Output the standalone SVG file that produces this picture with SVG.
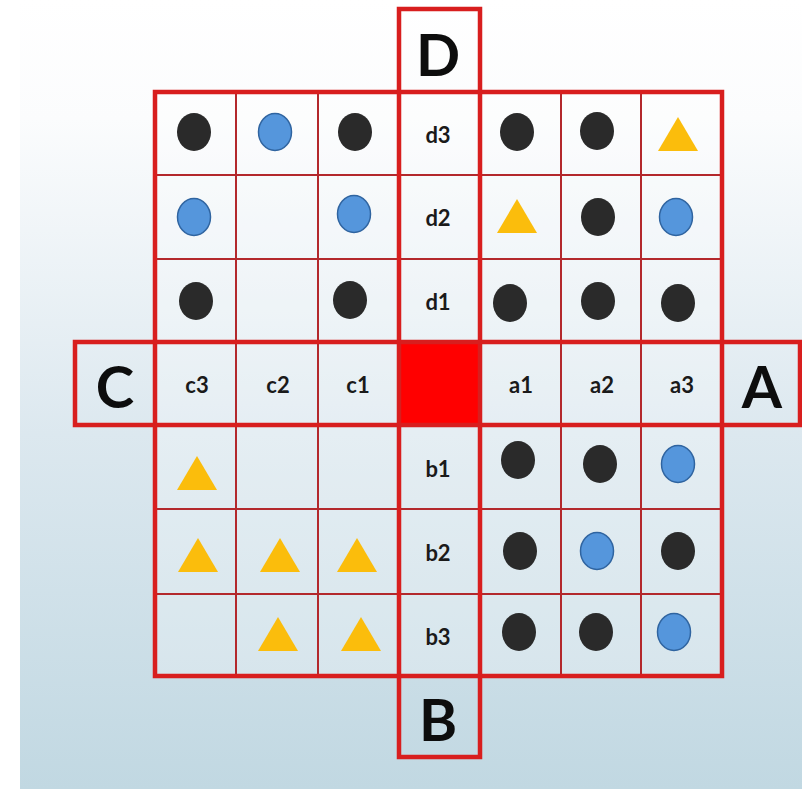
<svg xmlns="http://www.w3.org/2000/svg" width="802" height="789" viewBox="0 0 802 789">
<defs>
<linearGradient id="bg" x1="0" y1="0" x2="0" y2="1">
<stop offset="0" stop-color="#ffffff"/>
<stop offset="0.15" stop-color="#fbfcfd"/>
<stop offset="0.55" stop-color="#dce8ef"/>
<stop offset="1" stop-color="#c1d8e2"/>
</linearGradient>
<ellipse id="blk" rx="17" ry="19" fill="#2a2a2a"/>
<ellipse id="blu" rx="16.5" ry="18.5" fill="#5596dc" stroke="#2f64a0" stroke-width="1.5"/>
<polygon id="tri" points="0,-17 20,17 -20,17" fill="#fbbd0c"/>
</defs>
<style>
.thin{stroke:#b3282c;stroke-width:2;fill:none}
.thick{stroke:#d81e1e;stroke-width:4.5;fill:none}
.big{font-family:Lato,"Open Sans",sans-serif;font-weight:bold;font-size:58px;fill:#0d0d0d;text-anchor:middle}
.lbl{font-family:Lato,"Open Sans",sans-serif;font-weight:bold;font-size:22px;fill:#1a1a1a;text-anchor:middle}
</style>
<rect x="0" y="0" width="802" height="789" fill="#ffffff"/>
<rect x="20" y="0" width="782" height="789" fill="url(#bg)"/>

<g id="grid">
<rect x="155" y="92" width="567" height="584" fill="#ffffff" fill-opacity="0.25"/>
<rect x="399" y="342" width="81" height="83" fill="#ff0000"/>
<line class="thin" x1="236" y1="92" x2="236" y2="676"/>
<line class="thin" x1="318" y1="92" x2="318" y2="676"/>
<line class="thin" x1="561" y1="92" x2="561" y2="676"/>
<line class="thin" x1="641" y1="92" x2="641" y2="676"/>
<line class="thin" x1="155" y1="175" x2="722" y2="175"/>
<line class="thin" x1="155" y1="259" x2="722" y2="259"/>
<line class="thin" x1="155" y1="509" x2="722" y2="509"/>
<line class="thin" x1="155" y1="594" x2="722" y2="594"/>
<rect class="thick" x="155" y="92" width="567" height="584"/>
<rect class="thick" x="399" y="9" width="81" height="748"/>
<rect class="thick" x="75" y="342" width="725" height="83"/>
</g>

<g id="D"><text class="big" x="438" y="76">D</text></g>
<g id="B"><text class="big" x="438" y="741">B</text></g>
<g id="C"><text class="big" x="115" y="408">C</text></g>
<g id="A"><text class="big" x="762" y="408">A</text></g>

<g id="labels">
<text class="lbl" x="438" y="143">d3</text>
<text class="lbl" x="438" y="226">d2</text>
<text class="lbl" x="438" y="310">d1</text>
<text class="lbl" x="197" y="393">c3</text>
<text class="lbl" x="278" y="393">c2</text>
<text class="lbl" x="358" y="393">c1</text>
<text class="lbl" x="521" y="393">a1</text>
<text class="lbl" x="602" y="393">a2</text>
<text class="lbl" x="682" y="393">a3</text>
<text class="lbl" x="438" y="477">b1</text>
<text class="lbl" x="438" y="561">b2</text>
<text class="lbl" x="438" y="645">b3</text>
</g>

<g id="pieces">
<use href="#blk" x="194" y="132"/>
<use href="#blu" x="275" y="132"/>
<use href="#blk" x="355" y="132"/>
<use href="#blk" x="517" y="132"/>
<use href="#blk" x="597" y="131"/>
<use href="#tri" x="678" y="134"/>

<use href="#blu" x="194" y="217"/>
<use href="#blu" x="354" y="214"/>
<use href="#tri" x="517" y="216"/>
<use href="#blk" x="598" y="217"/>
<use href="#blu" x="676" y="217"/>

<use href="#blk" x="196" y="301"/>
<use href="#blk" x="350" y="300"/>
<use href="#blk" x="510" y="303"/>
<use href="#blk" x="598" y="301"/>
<use href="#blk" x="678" y="303"/>

<use href="#tri" x="197" y="473"/>
<use href="#blk" x="518" y="460"/>
<use href="#blk" x="600" y="464"/>
<use href="#blu" x="678" y="464"/>

<use href="#tri" x="198" y="555"/>
<use href="#tri" x="280" y="555"/>
<use href="#tri" x="357" y="555"/>
<use href="#blk" x="520" y="551"/>
<use href="#blu" x="597" y="551"/>
<use href="#blk" x="678" y="551"/>

<use href="#tri" x="278" y="634"/>
<use href="#tri" x="361" y="634"/>
<use href="#blk" x="519" y="632"/>
<use href="#blk" x="596" y="632"/>
<use href="#blu" x="674" y="632"/>
</g>
</svg>
